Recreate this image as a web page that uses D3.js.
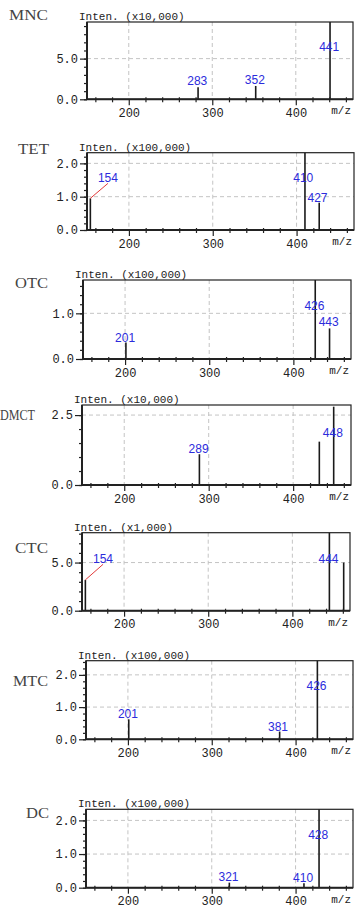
<!DOCTYPE html>
<html>
<head>
<meta charset="utf-8">
<title>MS spectra</title>
<script src="https://cdn.jsdelivr.net/npm/d3@7"></script>
<style>
  body { margin: 0; background: #fff; }
  .tick text { font-family: "Liberation Mono", "DejaVu Sans Mono", monospace; font-size: 12px; fill: #222; }
  .tick line { stroke: #222; stroke-width: 1.2; }
  .grid { stroke: #c4c4c4; stroke-width: 1; stroke-dasharray: 4,3; }
  .peak { stroke: #1a1a1a; stroke-width: 1.6; }
  .plab { font-family: "Liberation Sans", Arial, sans-serif; font-size: 12px; fill: #2b2bdc; text-anchor: middle; }
  .lead { stroke: #e23a3a; stroke-width: 1; }
  .cname { font-family: "Liberation Serif", "Times New Roman", serif; font-size: 14px; fill: #444; }
  .mono { font-family: "Liberation Mono", "DejaVu Sans Mono", monospace; font-size: 11px; fill: #222; }
</style>
</head>
<body>
<div id="chart"></div>
<script>
// compounds and their intensity multipliers
var compounds = ["MNC", "TET", "OTC", "DMCT", "CTC", "MTC", "DC"];
var units = ["(x10,000)", "(x100,000)", "(x100,000)", "(x10,000)", "(x1,000)", "(x100,000)", "(x100,000)"];

// peaks [m/z, intensity]
var mncPeaks  = [[283, 1.48], [352, 1.64], [441, 9.5]];
var tetPeaks  = [[154, 0.95], [410, 2.32], [427, 0.82]];
var otcPeaks  = [[201, 0.36], [426, 1.73], [443, 0.67]];
var dmctPeaks = [[289, 1.1], [431, 1.55], [448, 2.8]];
var ctcPeaks  = [[154, 3.2], [444, 8.1], [461, 5.0]];
var mtcPeaks  = [[201, 0.62], [381, 0.24], [426, 2.44]];
var dcPeaks   = [[321, 0.15], [410, 0.13], [428, 2.33]];

// y axis: max, major step, minor step
var yMax   = [9.5, 2.32, 1.73, 2.86, 8.1, 2.44, 2.33];
var yMajor = [5, 1, 1, 2.5, 5, 1, 1];
var yMinor = [1, 0.2, 0.2, 0.5, 1, 0.2, 0.2];

var mzDomain = [150, 468.5];
var mzMajor = [200, 300, 400];

// label placement [text, m/z, intensity, leader]
var mncLabels  = [["283", 282, 1.7], ["352", 351, 1.82], ["441", 440, 5.92]];
var tetLabels  = [["154", 175, 1.43, true], ["410", 408, 1.43], ["427", 425, 0.83]];
var otcLabels  = [["201", 200, 0.38], ["426", 425, 1.08], ["443", 442, 0.72]];
var dmctLabels = [["289", 288, 1.13], ["448", 447, 1.73]];
var ctcLabels  = [["154", 175, 4.92, true], ["444", 443, 5.0]];
var mtcLabels  = [["201", 200, 0.65], ["381", 379, 0.27], ["426", 425, 1.52]];
var dcLabels   = [["428", 427, 1.46], ["321", 320, 0.19], ["410", 409, 0.18]];

var allPeaks = [mncPeaks, tetPeaks, otcPeaks, dmctPeaks, ctcPeaks, mtcPeaks, dcPeaks];
var allLabels = [mncLabels, tetLabels, otcLabels, dmctLabels, ctcLabels, mtcLabels, dcLabels];

// layout: frame [left, top, right, bottom], name label [right x, baseline, width]
var frames = [
  [87, 22, 353, 99.3],
  [87, 152.7, 354, 230],
  [83, 280, 351, 359],
  [82, 405, 351, 485],
  [82, 532.7, 350, 610.7],
  [86, 660.7, 353, 739.3],
  [86, 809.3, 353, 887.7]
];
var nameAt = [[48, 20, 39], [49, 154, 31], [48, 288, 33], [35, 420, 35], [48, 553, 33], [48, 685.5, 35], [49, 818, 23]];

var svg = d3.select("#chart").append("svg")
  .attr("width", 358)
  .attr("height", 916);

function steps(max, step) {
  var n = Math.floor(max / step + 1e-6);
  return d3.range(0, n + 1).map(function(k) { return +(k * step).toFixed(3); });
}

compounds.forEach(function(name, i) {
  var L = frames[i][0], T = frames[i][1], R = frames[i][2], B = frames[i][3];
  var x = d3.scaleLinear().domain(mzDomain).range([L, R]);
  var y = d3.scaleLinear().domain([0, yMax[i]]).range([B, T]);
  var g = svg.append("g");

  // grid
  g.selectAll(".gx").data(mzMajor).enter().append("line")
    .attr("class", "grid")
    .attr("x1", function(d) { return x(d); }).attr("x2", function(d) { return x(d); })
    .attr("y1", T).attr("y2", B);
  g.selectAll(".gy").data(steps(yMax[i], yMajor[i]).filter(function(d) { return d > 0; }))
    .enter().append("line")
    .attr("class", "grid")
    .attr("x1", L).attr("x2", R)
    .attr("y1", function(d) { return y(d); }).attr("y2", function(d) { return y(d); });

  // peaks
  g.selectAll(".peak").data(allPeaks[i]).enter().append("line")
    .attr("class", "peak")
    .attr("x1", function(d) { return x(d[0]); }).attr("x2", function(d) { return x(d[0]); })
    .attr("y1", y(0))
    .attr("y2", function(d) { return y(Math.min(d[1], yMax[i])); });

  // leaders + labels
  var peaks = allPeaks[i];
  allLabels[i].forEach(function(lb) {
    if (lb[3]) {
      var pk = peaks.filter(function(p) { return String(p[0]) === lb[0]; })[0];
      g.append("line").attr("class", "lead")
        .attr("x1", x(pk[0])).attr("y1", y(pk[1]))
        .attr("x2", x(lb[1])).attr("y2", y(lb[2]) + 1);
    }
    g.append("text").attr("class", "plab")
      .attr("x", x(lb[1])).attr("y", y(lb[2]))
      .text(lb[0]);
  });

  // frame
  g.append("rect")
    .attr("x", L).attr("y", T).attr("width", R - L).attr("height", B - T)
    .attr("fill", "none").attr("stroke", "#222").attr("stroke-width", 1.2);

  // x axis: minor and major ticks in separate groups
  g.append("g").attr("transform", "translate(0," + B + ")")
    .call(d3.axisBottom(x).tickValues(d3.range(160, 468, 20).filter(function(d) { return d % 100; }))
      .tickSize(3).tickFormat(""))
    .call(function(s) { s.select(".domain").remove(); })
    .selectAll(".tick line").attr("y1", -2);
  g.append("g").attr("transform", "translate(0," + B + ")")
    .call(d3.axisBottom(x).tickValues(mzMajor).tickSize(6).tickPadding(3).tickFormat(d3.format("d")))
    .call(function(s) { s.select(".domain").remove(); });
  g.append("line").attr("x1", L).attr("x2", R).attr("y1", B).attr("y2", B)
    .attr("stroke", "#222").attr("stroke-width", 2);

  // y axis
  g.append("g").attr("transform", "translate(" + L + ",0)")
    .call(d3.axisLeft(y).tickValues(steps(yMax[i], yMinor[i])).tickSize(3).tickFormat(""))
    .call(function(s) { s.select(".domain").remove(); });
  g.append("g").attr("transform", "translate(" + L + ",0)")
    .call(d3.axisLeft(y).tickValues(steps(yMax[i], yMajor[i])).tickSize(7).tickPadding(2)
      .tickFormat(d3.format(".1f")))
    .call(function(s) { s.select(".domain").remove(); });
  g.append("line").attr("x1", L).attr("x2", L).attr("y1", T).attr("y2", B)
    .attr("stroke", "#222").attr("stroke-width", 2);

  // texts
  g.append("text").attr("class", "mono")
    .attr("x", L - 8).attr("y", T - 2)
    .text("Inten. " + units[i]);
  g.append("text").attr("class", "mono")
    .attr("x", R - 2).attr("y", B + 15).attr("text-anchor", "end")
    .text("m/z");
  g.append("text").attr("class", "cname")
    .attr("x", nameAt[i][0]).attr("y", nameAt[i][1])
    .attr("text-anchor", "end")
    .attr("textLength", nameAt[i][2]).attr("lengthAdjust", "spacingAndGlyphs")
    .text(name);
});
</script>
</body>
</html>
